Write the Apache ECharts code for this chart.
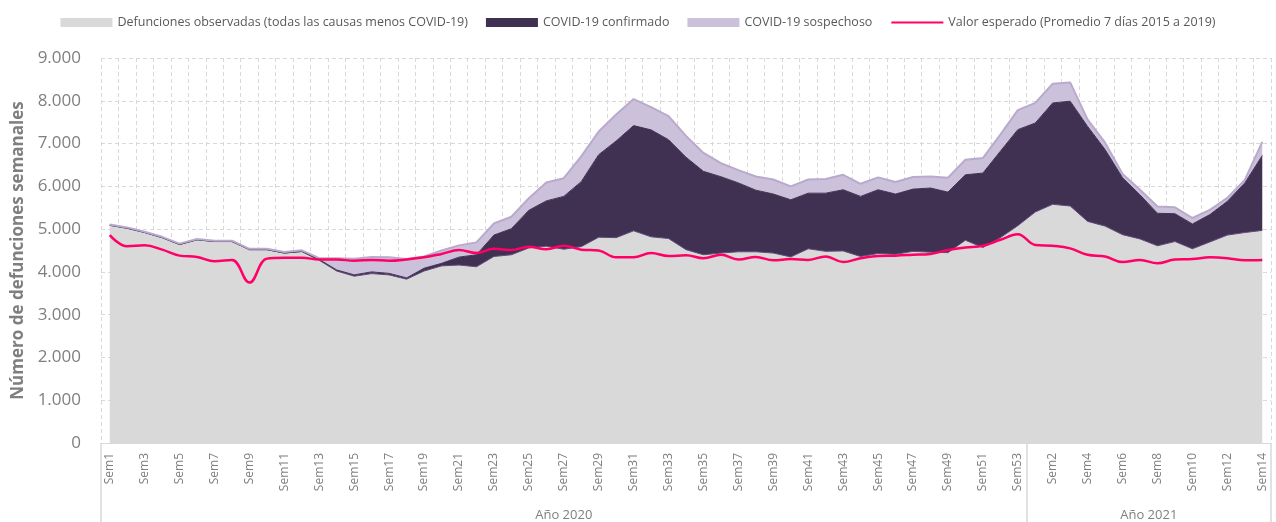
<!DOCTYPE html>
<html>
<head>
<meta charset="utf-8">
<script src="https://cdn.jsdelivr.net/npm/echarts@6/dist/echarts.min.js"></script>
<style>
  html, body { margin: 0; padding: 0; background: #fff; }
  #main { width: 1276px; height: 522px; }
</style>
</head>
<body>
<div id="main"></div>
<script>
// semanas (2020: Sem1..Sem53, 2021: Sem1..Sem14)
var semanas = [
  'Sem1','Sem2','Sem3','Sem4','Sem5','Sem6','Sem7','Sem8','Sem9','Sem10',
  'Sem11','Sem12','Sem13','Sem14','Sem15','Sem16','Sem17','Sem18','Sem19','Sem20',
  'Sem21','Sem22','Sem23','Sem24','Sem25','Sem26','Sem27','Sem28','Sem29','Sem30',
  'Sem31','Sem32','Sem33','Sem34','Sem35','Sem36','Sem37','Sem38','Sem39','Sem40',
  'Sem41','Sem42','Sem43','Sem44','Sem45','Sem46','Sem47','Sem48','Sem49','Sem50',
  'Sem51','Sem52','Sem53',
  'Sem1','Sem2','Sem3','Sem4','Sem5','Sem6','Sem7','Sem8','Sem9','Sem10',
  'Sem11','Sem12','Sem13','Sem14'
];
var anios = ['Año 2020', 'Año 2021'];
var anioLimites = [0, 53, 67];   // limites de cada año en semanas
var anioCentros = [26.5, 60];

// defunciones observadas (todas las causas menos COVID-19)
var observadas = [
  5090, 5020, 4920, 4800, 4640, 4750, 4710, 4710, 4520, 4520,
  4440, 4475, 4270, 4020, 3900, 3960, 3930, 3830, 4020, 4140,
  4160, 4120, 4360, 4400, 4560, 4600, 4530, 4590, 4810, 4800,
  4960, 4820, 4780, 4520, 4400, 4440, 4470, 4470, 4440, 4350,
  4540, 4480, 4490, 4360, 4430, 4410, 4480, 4460, 4450, 4740,
  4570, 4800, 5080,
  5400, 5580, 5540, 5180, 5070, 4870, 4770, 4610, 4710, 4540,
  4700, 4860, 4920, 4970
];
// COVID-19 confirmado
var confirmado = [
  0, 0, 0, 0, 0, 0, 0, 0, 0, 0,
  0, 5, 20, 25, 30, 40, 35, 30, 65, 60,
  185, 280, 500, 610, 880, 1060, 1235, 1520, 1930, 2260,
  2460, 2500, 2310, 2160, 1950, 1785, 1610, 1440, 1380, 1335,
  1300, 1360, 1430, 1405, 1490, 1410, 1455, 1500, 1415, 1530,
  1740, 2020, 2245,
  2080, 2370, 2450, 2220, 1790, 1330, 1030, 760, 650, 580,
  640, 790, 1160, 1750
];
// COVID-19 sospechoso
var sospechoso = [
  20, 20, 20, 20, 20, 20, 20, 20, 20, 20,
  25, 25, 30, 275, 380, 350, 375, 440, 275, 300,
  275, 290, 270, 280, 280, 430, 425, 590, 540, 620,
  620, 530, 550, 500, 430, 315, 300, 320, 340, 315,
  320, 330, 350, 295, 290, 280, 285, 270, 335, 350,
  350, 390, 455,
  470, 450, 440, 160, 160, 90, 120, 160, 150, 140,
  110, 80, 70, 320
];
// valor esperado (promedio 7 dias 2015 a 2019)
var esperado = [
  4860, 4600, 4620, 4520, 4380, 4350, 4250, 4280, 3750, 4310,
  4330, 4330, 4290, 4290, 4260, 4280, 4260, 4290, 4340, 4420,
  4510, 4440, 4540, 4510, 4590, 4530, 4610, 4520, 4500, 4340,
  4340, 4440, 4370, 4390, 4320, 4400, 4290, 4350, 4270, 4300,
  4280, 4360, 4230, 4320, 4370, 4380, 4400, 4420, 4510, 4570,
  4610, 4750, 4880,
  4630, 4610, 4550, 4400, 4360, 4230, 4280, 4200, 4290, 4300,
  4340, 4320, 4270, 4280
];

var FONT = 'Open Sans';
var GRIS = '#7f7f7f';

function miles(v) {
  return String(v).replace(/\B(?=(\d{3})+(?!\d))/g, '.');
}

var myChart = echarts.init(document.getElementById('main'));

var option = {
  animation: false,
  textStyle: { fontFamily: FONT },
  legend: {
    top: 11,
    left: 'center',
    itemWidth: 52,
    itemHeight: 9,
    itemGap: 18,
    textStyle: { fontFamily: FONT, fontSize: 12.5, color: '#595959' },
    data: [
      { name: 'Defunciones observadas (todas las causas menos COVID-19)', icon: 'rect' },
      { name: 'COVID-19 confirmado', icon: 'rect' },
      { name: 'COVID-19 sospechoso', icon: 'rect' },
      { name: 'Valor esperado (Promedio 7 días 2015 a 2019)', itemStyle: { opacity: 0 } }
    ]
  },
  grid: { left: 101, right: 5, top: 58, bottom: 79, outerBoundsMode: 'none' },
  xAxis: [
    {
      type: 'category',
      data: semanas,
      boundaryGap: true,
      axisLine: { lineStyle: { color: '#d9d9d9', width: 1 } },
      axisTick: { show: false },
      axisLabel: {
        interval: 1,
        rotate: 90,
        margin: 10,
        fontFamily: FONT,
        fontSize: 12,
        color: GRIS
      },
      splitLine: {
        show: true,
        interval: 0,
        lineStyle: { color: '#d9d9d9', type: [4, 3], width: 1 }
      }
    },
    {
      type: 'value',
      position: 'bottom',
      min: 0,
      max: 67,
      axisLine: { show: false },
      splitLine: { show: false },
      axisTick: {
        show: true,
        customValues: anioLimites,
        length: 80,
        lineStyle: { color: '#d9d9d9', width: 1.5 }
      },
      axisLabel: {
        customValues: anioCentros,
        margin: 66,
        fontFamily: FONT,
        fontSize: 13,
        color: GRIS,
        formatter: function (v) { return v < anioLimites[1] ? anios[0] : anios[1]; }
      }
    }
  ],
  yAxis: {
    type: 'value',
    min: 0,
    max: 9000,
    interval: 1000,
    name: 'Número de defunciones semanales',
    nameLocation: 'middle',
    nameRotate: 90,
    nameGap: 72,
    nameTextStyle: { fontFamily: FONT, fontSize: 17, fontWeight: 'bold', color: GRIS },
    axisLine: { show: false },
    axisTick: { show: false },
    axisLabel: {
      margin: 20,
      fontFamily: FONT,
      fontSize: 17,
      color: GRIS,
      formatter: miles
    },
    splitLine: { lineStyle: { color: '#d9d9d9', type: [4, 3], width: 1 } }
  },
  series: [
    {
      name: 'Defunciones observadas (todas las causas menos COVID-19)',
      type: 'line',
      stack: 'total',
      data: observadas,
      symbol: 'none',
      itemStyle: { color: '#d9d9d9' },
      lineStyle: { color: '#604a7b', width: 1 },
      areaStyle: { color: '#d9d9d9', opacity: 1 }
    },
    {
      name: 'COVID-19 confirmado',
      type: 'line',
      stack: 'total',
      data: confirmado,
      symbol: 'none',
      itemStyle: { color: '#403152' },
      lineStyle: { color: '#403152', width: 1 },
      areaStyle: { color: '#403152', opacity: 1 }
    },
    {
      name: 'COVID-19 sospechoso',
      type: 'line',
      stack: 'total',
      data: sospechoso,
      symbol: 'none',
      itemStyle: { color: '#ccc1da' },
      lineStyle: { color: '#b9aacd', width: 2 },
      areaStyle: { color: '#ccc1da', opacity: 1 }
    },
    {
      name: 'Valor esperado (Promedio 7 días 2015 a 2019)',
      type: 'line',
      data: esperado,
      symbol: 'none',
      smooth: 0.4,
      z: 5,
      itemStyle: { color: '#ff0066' },
      lineStyle: { color: '#ff0066', width: 2.5 }
    }
  ]
};

myChart.setOption(option);
</script>
</body>
</html>
